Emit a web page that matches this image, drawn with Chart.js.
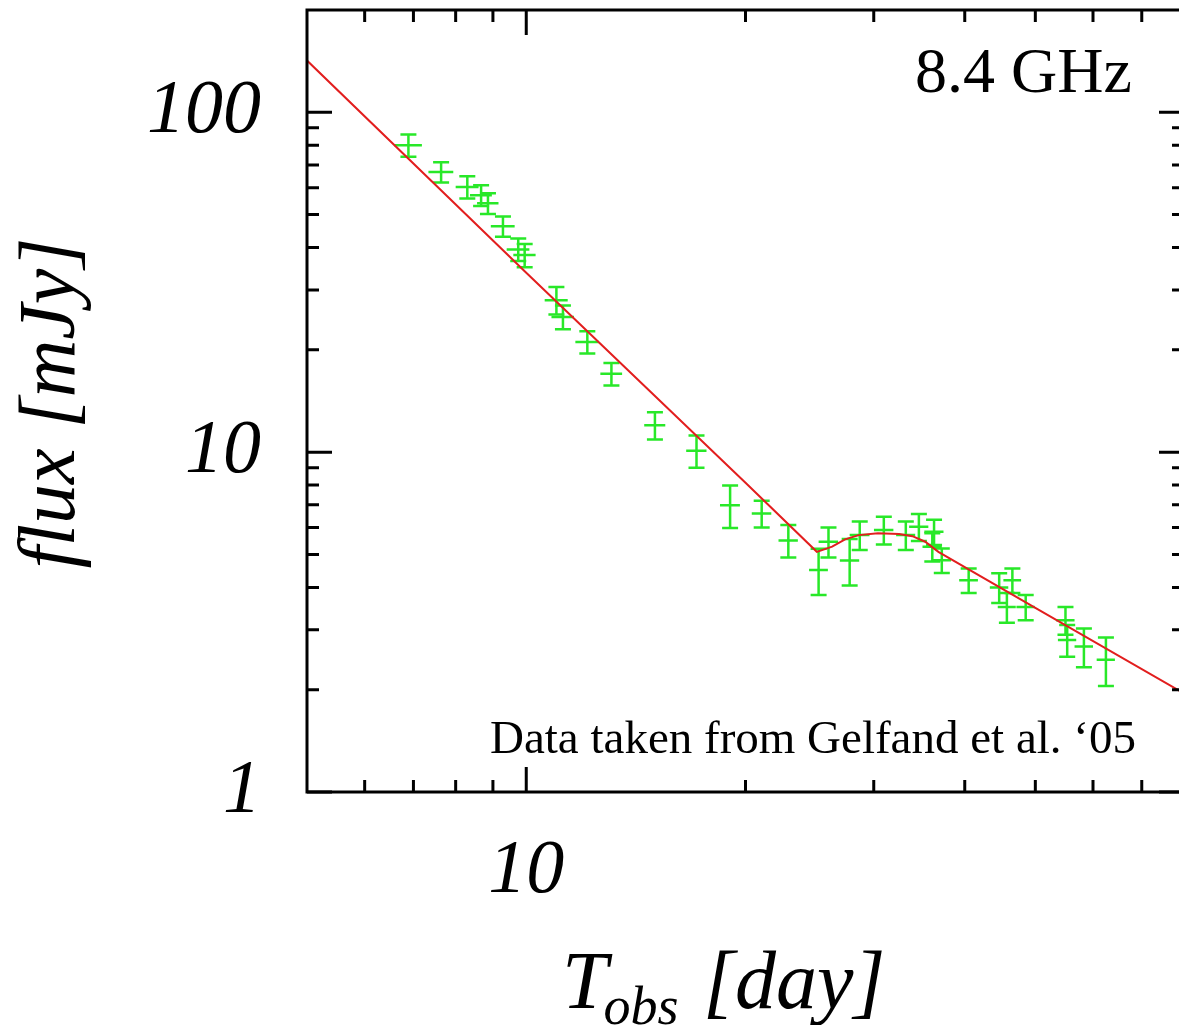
<!DOCTYPE html>
<html>
<head>
<meta charset="utf-8">
<script src="https://cdn.jsdelivr.net/npm/chart.js@4.4.1/dist/chart.umd.min.js"></script>
<style>
html,body{margin:0;padding:0;background:#fff;overflow:hidden;}
#wrap{position:absolute;left:0;top:0;width:1190px;height:1025px;}
</style>
</head>
<body>
<div id="wrap"><canvas id="c" width="1190" height="1025"></canvas></div>
<script>
const times   = [6.89, 7.64, 8.30, 8.67, 8.86, 9.29, 9.75, 9.95, 11.0, 11.23, 12.13, 13.09, 15.02, 17.13, 19.05, 21.05, 22.9, 25.2, 26.0, 27.8, 28.7, 30.97, 33.2, 34.6, 36.3, 36.1, 37.2, 40.5, 44.6, 46.5, 45.7, 48.5, 55.0, 55.3, 58.3, 62.5];
const flux    = [80, 66.7, 60.3, 57, 54, 46.2, 39.5, 38, 28, 25, 21.1, 17, 12, 10.1, 6.98, 6.6, 5.5, 4.5, 5.45, 4.8, 5.7, 5.9, 5.7, 6.03, 5.83, 5.27, 4.81, 4.2, 4.0, 4.2, 3.5, 3.5, 3.2, 2.8, 2.68, 2.45];
const fluxErr = [6, 4.6, 4.5, 4, 3.8, 3.2, 3, 3, 2.6, 2, 1.6, 1.3, 1.1, 1.1, 1.0, 0.6, 0.6, 0.7, 0.55, 0.75, 0.55, 0.55, 0.55, 0.55, 0.5, 0.5, 0.4, 0.35, 0.4, 0.35, 0.35, 0.3, 0.3, 0.3, 0.35, 0.4];
const timeErr = [0.3, 0.3, 0.3, 0.3, 0.3, 0.35, 0.35, 0.35, 0.4, 0.4, 0.45, 0.45, 0.5, 0.55, 0.6, 0.65, 0.7, 0.75, 0.8, 0.85, 0.9, 0.95, 1.0, 1.05, 1.1, 1.1, 1.1, 1.2, 1.3, 1.3, 1.3, 1.4, 1.6, 1.6, 1.7, 1.8];

// Model curve
const modelT = [5, 10, 20, 25.06, 26.3, 27.4, 28.6, 30.4, 32.5, 33.9, 35.3, 36.8, 50, 80];
const modelF = [142, 33.7, 8.13, 5.09, 5.27, 5.54, 5.70, 5.77, 5.74, 5.66, 5.45, 5.09, 3.48, 1.95];

// Axis ticks
const xMajor = [10];
const xMinor = [6, 7, 8, 9, 20, 30, 40, 50, 60, 70, 80];
const yMajor = [1, 10, 100];
const yMinor = [2, 3, 4, 5, 6, 7, 8, 9, 20, 30, 40, 50, 60, 70, 80, 90];

const GREEN = 'rgb(40,232,40)';
const RED = 'rgb(226,30,30)';
const SERIF = '"Liberation Serif", "Times New Roman", serif';

const errorBars = {
  id: 'errorBars',
  beforeDatasetsDraw(chart) {
    const {ctx, scales: {x, y}} = chart;
    ctx.save();
    ctx.strokeStyle = GREEN;
    ctx.lineWidth = 2.5;
    const cap = 8;
    for (let i = 0; i < times.length; i++) {
      const px = x.getPixelForValue(times[i]);
      const py = y.getPixelForValue(flux[i]);
      const yl = y.getPixelForValue(flux[i] - fluxErr[i]);
      const yh = y.getPixelForValue(flux[i] + fluxErr[i]);
      const xl = x.getPixelForValue(times[i] - timeErr[i]);
      const xh = x.getPixelForValue(times[i] + timeErr[i]);
      ctx.beginPath();
      ctx.moveTo(px, yl); ctx.lineTo(px, yh);
      ctx.moveTo(px - cap, yl); ctx.lineTo(px + cap, yl);
      ctx.moveTo(px - cap, yh); ctx.lineTo(px + cap, yh);
      ctx.moveTo(xl, py); ctx.lineTo(xh, py);
      ctx.stroke();
    }
    ctx.restore();
  }
};

const frame = {
  id: 'frame',
  afterDraw(chart) {
    const {ctx, chartArea: a, scales: {x, y}} = chart;
    ctx.save();
    ctx.strokeStyle = '#000';
    ctx.lineWidth = 3;
    ctx.strokeRect(a.left, a.top, a.right - a.left, a.bottom - a.top);
    ctx.beginPath();
    const tick = (vals, len) => {
      vals.forEach(v => {
        const px = x.getPixelForValue(v);
        ctx.moveTo(px, a.bottom); ctx.lineTo(px, a.bottom - len);
        ctx.moveTo(px, a.top); ctx.lineTo(px, a.top + len);
      });
    };
    const ytick = (vals, len) => {
      vals.forEach(v => {
        const py = y.getPixelForValue(v);
        ctx.moveTo(a.left, py); ctx.lineTo(a.left + len, py);
        ctx.moveTo(a.right, py); ctx.lineTo(a.right - len, py);
      });
    };
    tick(xMajor, 25); tick(xMinor, 12);
    ytick(yMajor, 25); ytick(yMinor, 12);
    ctx.stroke();

    // Axis titles and annotations
    ctx.fillStyle = '#000';
    ctx.save();
    ctx.translate(74, 403);
    ctx.rotate(-Math.PI / 2);
    ctx.font = 'italic 80px ' + SERIF;
    ctx.textAlign = 'center';
    ctx.textBaseline = 'alphabetic';
    ctx.fillText('flux [mJy]', 0, 0);
    ctx.restore();
    ctx.textAlign = 'left';
    ctx.textBaseline = 'alphabetic';
    let tx = 562;
    const base = 1008;
    ctx.font = 'italic 82px ' + SERIF;
    ctx.fillText('T', tx, base);
    tx += ctx.measureText('T').width - 4;
    ctx.font = 'italic 54px ' + SERIF;
    ctx.fillText('obs', tx, base + 16);
    tx += ctx.measureText('obs').width + 4;
    ctx.font = 'italic 82px ' + SERIF;
    ctx.fillText(' [day]', tx, base);
    ctx.font = '64px ' + SERIF;
    ctx.fillText('8.4 GHz', 915, 92);
    ctx.font = '47px ' + SERIF;
    ctx.fillText('Data taken from Gelfand et al. \u201805', 490, 753);
    ctx.restore();
  }
};

new Chart(document.getElementById('c'), {
  type: 'scatter',
  data: {
    datasets: [
      {
        label: 'data',
        data: times.map((t, i) => ({x: t, y: flux[i]})),
        pointRadius: 0,
        showLine: false
      },
      {
        label: 'model',
        data: modelT.map((t, i) => ({x: t, y: modelF[i]})),
        showLine: true,
        borderColor: RED,
        borderWidth: 2,
        pointRadius: 0,
        tension: 0,
        fill: false
      }
    ]
  },
  options: {
    responsive: false,
    animation: false,
    devicePixelRatio: 1,
    layout: {padding: {top: 10, right: 6, left: 0, bottom: 0}},
    plugins: {legend: {display: false}, tooltip: {enabled: false}, title: {display: false}},
    scales: {
      x: {
        type: 'logarithmic',
        min: 5, max: 80,
        grid: {display: false, drawTicks: false},
        border: {display: false},
        afterBuildTicks: s => { s.ticks = xMajor.map(v => ({value: v})); },
        afterFit: s => { s.height = 233; s.paddingLeft = 0; s.paddingRight = 0; s.paddingTop = 0; s.paddingBottom = 0; },
        ticks: {
          autoSkip: false, maxRotation: 0, padding: 34, color: '#000',
          font: {family: SERIF, style: 'italic', size: 76},
          callback: v => String(v)
        }
      },
      y: {
        type: 'logarithmic',
        min: 1, max: 200,
        grid: {display: false, drawTicks: false},
        border: {display: false},
        afterBuildTicks: s => { s.ticks = yMajor.map(v => ({value: v})); },
        afterFit: s => { s.width = 307; s.paddingTop = 0; s.paddingBottom = 0; s.paddingLeft = 0; s.paddingRight = 0; },
        ticks: {
          autoSkip: false, padding: 46, color: '#000',
          font: {family: SERIF, style: 'italic', size: 76},
          callback: v => String(v)
        }
      }
    }
  },
  plugins: [errorBars, frame]
});
</script>
</body>
</html>
